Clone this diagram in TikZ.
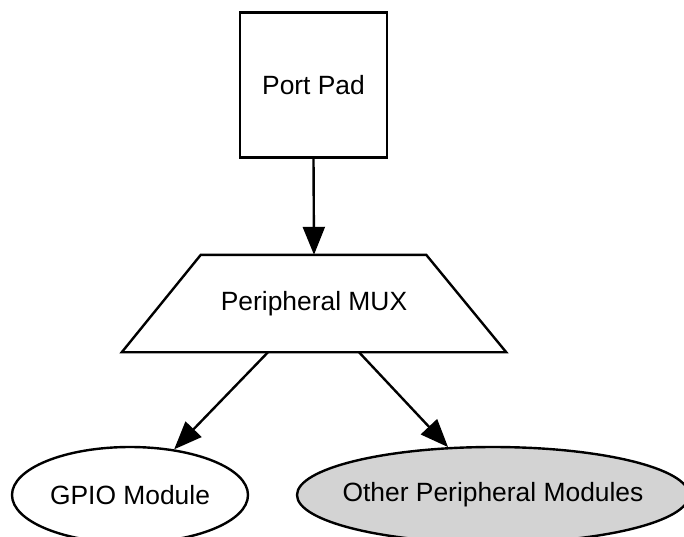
\documentclass[tikz,border=0pt]{standalone}
\usepackage{fontspec}
\setmainfont{Liberation Sans}
\usetikzlibrary{shapes.geometric,arrows.meta}
\definecolor{lgray}{RGB}{211,211,211}
\begin{document}
\begin{tikzpicture}[x=1pt,y=-1pt,
  every node/.style={font=\fontsize{26.4}{30}\selectfont, line width=2.4pt, inner sep=0pt},
  box/.style={draw, rectangle, minimum width=147pt, minimum height=145pt},
  muxshape/.style={rectangle, minimum width=382pt, minimum height=95pt},
  oval/.style={draw, ellipse},
  conn/.style={line width=2.4pt, -{Triangle[length=28pt,width=22pt]}}]
\useasboundingbox (0,0) rectangle (684,536);
\node[box] (pad) at (313.5,85) {Port Pad};
\node[muxshape] (mux) at (314,303.5) {Peripheral MUX};
\draw[line width=2.4pt, line join=miter] (mux.south west) -- (mux.south east)
  -- ([xshift=-80pt]mux.north east) -- ([xshift=79pt]mux.north west) -- cycle;
\node[oval, minimum width=236pt, minimum height=96pt] (gpio) at (130,495) {GPIO Module};
\node[oval, fill=lgray, inner xsep=-13pt, minimum width=392pt, minimum height=96pt] (other) at (493,495) {Other Peripheral Modules};
\draw[conn] (pad.south) -- (mux.north);
\draw[conn] ([xshift=-46pt]mux.south) -- (gpio);
\draw[conn] ([xshift=45pt]mux.south) -- (other);
\end{tikzpicture}
\end{document}
